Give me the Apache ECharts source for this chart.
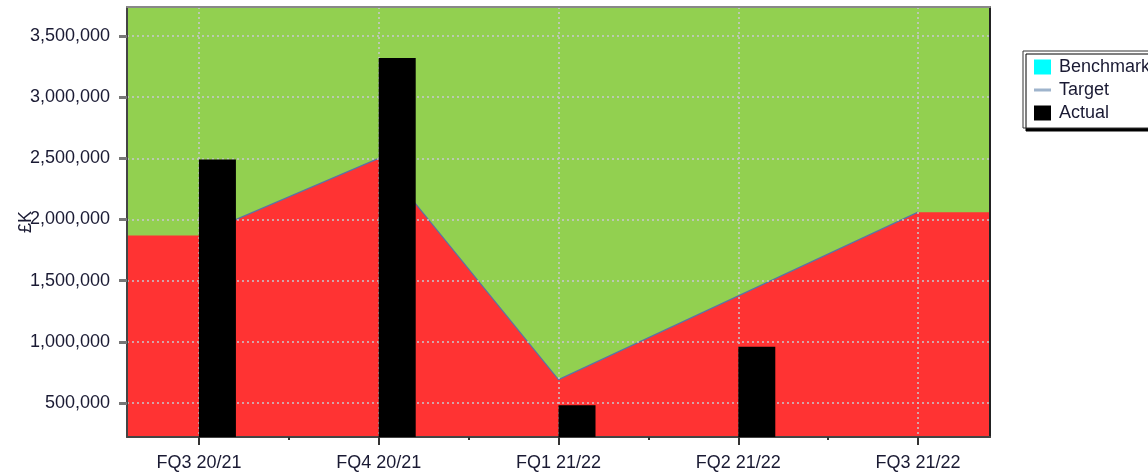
<!DOCTYPE html>
<html><head><meta charset="utf-8">
<script src="https://cdn.jsdelivr.net/npm/echarts@6/dist/echarts.min.js"></script>
<style>html,body{margin:0;padding:0;background:#fff}#c{width:1148px;height:473px}</style>
</head><body><div id="c"></div>
<script>
const categories = ['FQ3 20/21', 'FQ4 20/21', 'FQ1 21/22', 'FQ2 21/22', 'FQ3 21/22'];
const targetValues = [1870000, 2500000, 690000, 1375000, 2060000];
const actualValues = [2490000, 3320000, 480000, 960000, null];
const benchmarkValues = [];
const yTickValues = [500000, 1000000, 1500000, 2000000, 2500000, 3000000, 3500000];
const legendNames = ['Benchmark', 'Target', 'Actual'];

const X_MIN = -0.4, X_MAX = 4.4, Y_MIN = 221000, Y_MAX = 3738000;
const FONT = 'Liberation Sans';
const TEXT = '#1a1a33';
const catIdx = categories.map((c, i) => i);
const midIdx = categories.slice(1).map((c, i) => i + 0.5);

// area under target, extended flat to the plot edges
const areaData = [[X_MIN, targetValues[0]]]
  .concat(targetValues.map((v, i) => [i, v]))
  .concat([[X_MAX, targetValues[targetValues.length - 1]]]);

const fmt = v => Math.round(v).toString().replace(/\B(?=(\d{3})+(?!\d))/g, ',');
const grid = { left: 127, top: 7, right: 158, bottom: 36, show: true, backgroundColor: '#92d050',
  borderWidth: 0, containLabel: false, outerBoundsMode: 'none' };
const dotted = { color: '#c8c8d0', width: 1.5, type: [2, 3] };

const chart = echarts.init(document.getElementById('c'));
chart.setOption({
  animation: false,
  textStyle: { fontFamily: FONT },
  grid: grid,
  legend: {
    orient: 'vertical', left: 1023, top: 51,
    padding: [7, 12, 6, 11], itemGap: 5, itemWidth: 17, itemHeight: 15,
    backgroundColor: '#fff', borderColor: '#333', borderWidth: 1, borderRadius: 0,
    shadowColor: '#000', shadowBlur: 0, shadowOffsetX: 3, shadowOffsetY: 3,
    textStyle: { fontFamily: FONT, fontSize: 18, color: TEXT, padding: [0, 0, 0, 3] },
    data: [
      { name: legendNames[0], icon: 'rect', itemStyle: { color: '#00ffff' } },
      { name: legendNames[1], icon: 'path://M0,0 L17,0 L17,3 L0,3 Z', itemStyle: { color: '#9fb4cc' } },
      { name: legendNames[2], icon: 'rect', itemStyle: { color: '#000' } }
    ]
  },
  xAxis: [
    {
      type: 'value', min: X_MIN, max: X_MAX, position: 'bottom', z: 3,
      axisLine: { show: true, onZero: false, lineStyle: { color: '#444', width: 2 } },
      axisTick: { show: true, length: 8, customValues: catIdx, lineStyle: { color: '#333', width: 2 } },
      axisLabel: { customValues: catIdx, formatter: v => categories[Math.round(v)], margin: 17,
        fontFamily: FONT, fontSize: 18, color: TEXT },
      splitLine: { show: true, lineStyle: dotted }
    },
    {
      type: 'value', min: X_MIN, max: X_MAX, position: 'bottom', z: 3,
      axisLine: { show: false },
      axisTick: { show: true, length: 3, customValues: midIdx, lineStyle: { color: '#333', width: 2 } },
      axisLabel: { show: false },
      splitLine: { show: false }
    },
    {
      type: 'value', min: X_MIN, max: X_MAX, position: 'top', z: 3,
      axisLine: { show: true, onZero: false, lineStyle: { color: '#888', width: 2 } },
      axisTick: { show: false }, axisLabel: { show: false }, splitLine: { show: false }
    }
  ],
  yAxis: [
    {
      type: 'value', min: Y_MIN, max: Y_MAX, position: 'left', z: 3,
      name: '£K', nameLocation: 'middle', nameRotate: 90, nameGap: 92, nameMoveOverlap: false,
      nameTextStyle: { fontFamily: FONT, fontSize: 18, color: TEXT },
      axisLine: { show: true, onZero: false, lineStyle: { color: '#444', width: 2 } },
      axisTick: { show: true, length: 8, customValues: yTickValues, lineStyle: { color: '#777', width: 3 } },
      axisLabel: { customValues: yTickValues, formatter: fmt, margin: 17,
        fontFamily: FONT, fontSize: 18, color: TEXT },
      splitLine: { show: true, lineStyle: dotted }
    },
    {
      type: 'value', min: Y_MIN, max: Y_MAX, position: 'right', z: 3,
      axisLine: { show: true, onZero: false, lineStyle: { color: '#222', width: 2 } },
      axisTick: { show: false }, axisLabel: { show: false }, splitLine: { show: false }
    }
  ],
  series: [
    {
      name: 'TargetArea', type: 'line', xAxisIndex: 0, yAxisIndex: 0, z: 1,
      data: areaData, showSymbol: false, symbol: 'none',
      lineStyle: { width: 0 }, areaStyle: { color: '#ff3333', opacity: 1, origin: 'start' },
      silent: true
    },
    {
      name: legendNames[1], type: 'line', xAxisIndex: 0, yAxisIndex: 0, z: 2,
      data: targetValues.map((v, i) => [i, v]), showSymbol: false, symbol: 'none',
      lineStyle: { color: '#5a74a6', width: 1.2 }, itemStyle: { color: '#9fb4cc' }
    },
    {
      name: legendNames[0], type: 'bar', xAxisIndex: 0, yAxisIndex: 0, z: 4,
      data: benchmarkValues, barWidth: 37, barGap: '0%', itemStyle: { color: '#00ffff' }
    },
    {
      name: legendNames[2], type: 'bar', xAxisIndex: 0, yAxisIndex: 0, z: 4,
      data: actualValues.map((v, i) => [i, v]), barWidth: 37, barGap: '0%', itemStyle: { color: '#000' }
    }
  ]
});
</script></body></html>
